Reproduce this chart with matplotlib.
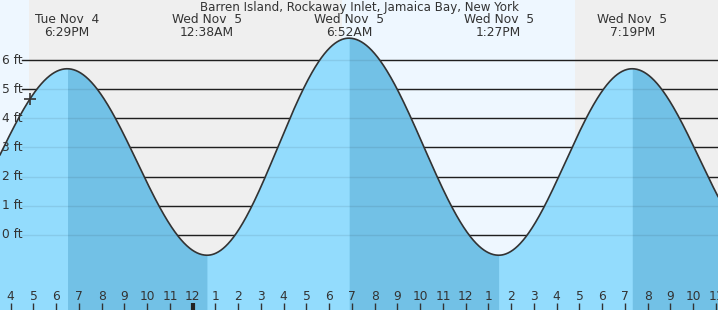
import numpy as np
import matplotlib
matplotlib.use('Agg')
from matplotlib import pyplot as plt

# hours counted from Tue Nov 4, 4:00 PM
title = 'Barren Island, Rockaway Inlet, Jamaica Bay, New York'

# tide extremes (first and last are off the labels, just outside the window)
tide_hours = [-3.667, 2.483, 8.633, 14.867, 21.45, 27.317, 33.25]
tide_ft = [-0.6, 5.7, -0.7, 6.75, -0.7, 5.7, -0.5]
tide_labels = ['', 'Tue Nov  4\n6:29PM', 'Wed Nov  5\n12:38AM', 'Wed Nov  5\n6:52AM',
               'Wed Nov  5\n1:27PM', 'Wed Nov  5\n7:19PM', '']

# night spans (sunset Tue -> sunrise Wed, sunset Wed -> end)
night_spans = [(0.8, 14.58), (24.8, 40.0)]

now_hour = 0.85
now_ft = 4.67

ft_levels = [0, 1, 2, 3, 4, 5, 6]
hour_ticks = list(range(0, 32))

x0, x1 = -0.47, 31.09
y0, y1 = -2.58, 8.06

fig = plt.figure(figsize=(7.18, 3.10), dpi=100)
ax = fig.add_axes([0, 0, 1, 1])
ax.set_xlim(x0, x1)
ax.set_ylim(y0, y1)
ax.axis('off')

# background: day light blue, night grey
ax.axvspan(x0, x1, color='#eef7ff', zorder=0)
for a, b in night_spans:
    ax.axvspan(a, b, color='#efefef', zorder=0.5, lw=0)

# dark grid lines behind the water
gx = x0 + 22 / 718 * (x1 - x0)
for lv in ft_levels:
    ax.plot([gx, x1], [lv, lv], color='#222222', lw=1, zorder=1)

# tide curve: cosine between extremes
t = np.linspace(x0, x1, 1500)
h = np.zeros_like(t)
for i in range(len(tide_hours) - 1):
    ta, tb = tide_hours[i], tide_hours[i + 1]
    ha, hb = tide_ft[i], tide_ft[i + 1]
    m = (t >= ta) & (t <= tb)
    f = (1 - np.cos(np.pi * (t[m] - ta) / (tb - ta))) / 2
    h[m] = ha + (hb - ha) * f

# light water everywhere, darker where the tide falls
ax.fill_between(t, y0, h, color='#93dcfd', lw=0, zorder=2)
for i in range(len(tide_hours) - 1):
    ta, tb = tide_hours[i], tide_hours[i + 1]
    if tide_ft[i + 1] < tide_ft[i]:
        m = (t >= ta) & (t <= tb)
        ax.fill_between(t[m], y0, h[m], color='#72c1e6', lw=0, zorder=2.1)

# faint grid lines over the water
for lv in ft_levels:
    ax.plot([gx, x1], [lv, lv], color='#000000', alpha=0.08, lw=1, zorder=3)

ax.plot(t, h, color='#333333', lw=1.2, zorder=4)
ax.plot(now_hour, now_ft, marker='+', ms=9, mew=1.2, color='#333333', zorder=5)

# y labels
for lv in ft_levels:
    ax.text(x0 + 2 / 718 * (x1 - x0), lv, '%d ft' % lv, ha='left', va='center',
            fontsize=8.8, color='#333333', zorder=5)

# hour labels and ticks
for hr in hour_ticks:
    lab = (3 + hr) % 12 + 1
    ax.text(hr, 1 - 296 / 310, str(lab), transform=ax.get_xaxis_transform(),
            ha='center', va='center', fontsize=8.8, color='#333333', zorder=5)
    midnight = (hr + 16) % 24 == 0
    ax.plot([hr, hr], [0, 7 / 310], transform=ax.get_xaxis_transform(),
            color='#222222' if midnight else '#333333', lw=3 if midnight else 1,
            zorder=5, solid_capstyle='butt')

# extreme labels
for hr, lab in zip(tide_hours, tide_labels):
    if lab:
        ax.text(hr, 1 - 26 / 310, lab, transform=ax.get_xaxis_transform(),
                ha='center', va='center', fontsize=8.8, color='#333333',
                linespacing=0.92, zorder=5)

ax.text(0.5, 1 - 7.5 / 310, title, transform=ax.transAxes, ha='center', va='center',
        fontsize=8.6, color='#333333', zorder=5)

fig.savefig('out.png', dpi=100)
